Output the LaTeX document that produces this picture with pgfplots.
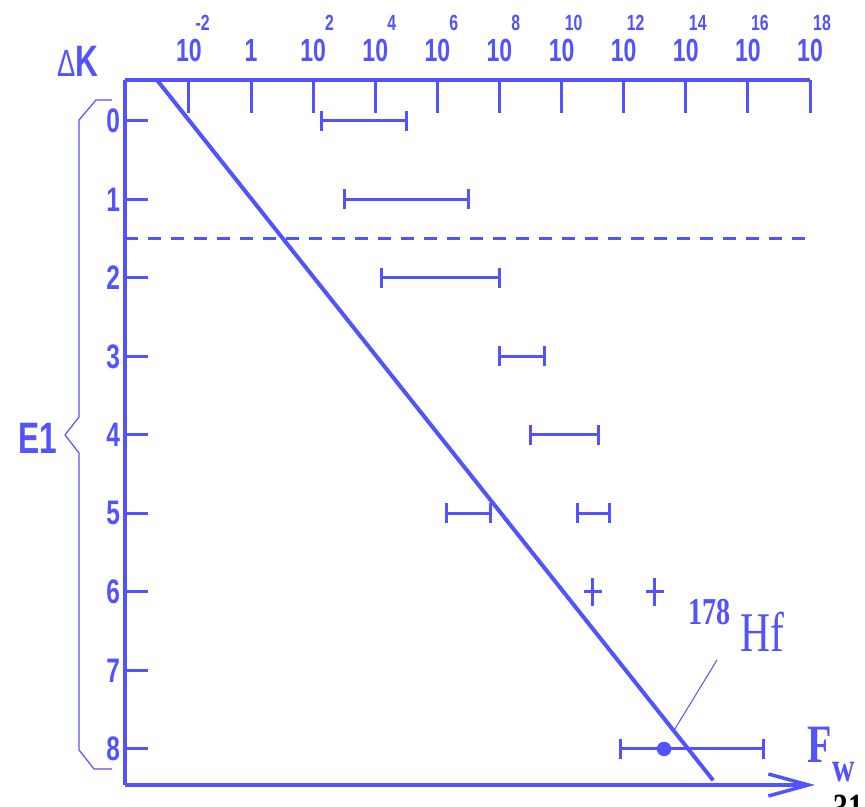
\documentclass[border=0pt]{standalone}
\usepackage{pgfplots}
\pgfplotsset{compat=1.18}
\usetikzlibrary{arrows.meta}
\usepackage{fontspec}
\setmainfont{Liberation Sans}
\newfontfamily\narrowsans[FakeStretch=0.72]{Liberation Sans}
\newfontfamily\narrowserif[FakeStretch=0.74]{Liberation Serif}
\definecolor{ink}{RGB}{82,82,255}

% power-of-ten tick label: exponent raised above the right end of the mantissa
\newcommand{\pw}[2]{#2\makebox[0pt][r]{\raisebox{15.5pt}{\fontsize{11}{11}\selectfont #1}\hspace{-4pt}}}

\begin{document}
\begin{tikzpicture}
\begin{axis}[
  scale only axis, width=342.5pt, height=352.5pt,
  xmin=-4.06, xmax=18, ymin=-0.522, ymax=8.459,
  y dir=reverse,
  axis x line*=top, axis y line*=left,
  axis line style={-, line width=1.75pt, ink},
  xtick={-2,0,2,4,6,8,10,12,14,16,18},
  xticklabels={\pw{-2}{10},\pw{}{1},\pw{2}{10},\pw{4}{10},\pw{6}{10},\pw{8}{10},\pw{10}{10},\pw{12}{10},\pw{14}{10},\pw{16}{10},\pw{18}{10}},
  ytick={0,1,2,3,4,5,6,7,8},
  yticklabels={0,1,2,3,4,5,6,7,8},
  tick align=inside,
  tick style={ink, line width=1.5pt},
  xtick style={/pgfplots/major tick length=16.5pt},
  ytick style={/pgfplots/major tick length=11.5pt},
  xticklabel style={ink, font=\narrowsans\bfseries\fontsize{16}{16}\selectfont, anchor=south, inner sep=0pt, yshift=9pt},
  yticklabel style={ink, font=\narrowsans\bfseries\fontsize{17}{17}\selectfont, xshift=1pt},
  clip=false,
  bar/.style={ink, line width=1.5pt, mark=|, mark size=5pt, mark options={solid}},
]
% systematics line: two decades of hindrance per degree of K-forbiddenness
\addplot[ink, line width=2pt] coordinates {(-3.03,-0.522) (14.88,8.40)};
% E1 boundary between allowed and forbidden
\addplot[ink, line width=1.5pt, dash pattern=on 6.5pt off 5pt] coordinates {(-4.06,1.5) (17.9,1.5)};

% ranges of reduced hindrance (log10 Fw)
\addplot[bar] coordinates {(2.28,0) (5.0,0)};
\addplot[bar] coordinates {(3.0,1) (7.0,1)};
\addplot[bar] coordinates {(4.2,2) (8.0,2)};
\addplot[bar] coordinates {(8.0,3) (9.45,3)};
\addplot[bar] coordinates {(9.0,4) (11.2,4)};
\addplot[bar] coordinates {(6.3,5) (7.7,5)};
\addplot[bar] coordinates {(10.5,5) (11.55,5)};
\addplot[bar] coordinates {(11.9,8) (16.5,8)};
\addplot[ink, only marks, mark=+, mark size=7pt, mark options={line width=1.5pt, xscale=0.65}] coordinates {(11,6) (13,6)};
\addplot[ink, only marks, mark=*, mark size=3.4pt] coordinates {(13.3,8)};

% lower axis with arrow
\draw[ink, line width=1.75pt, -{Straight Barb[length=20pt, width=11pt]}] (axis cs:-4.06,8.459) -- (axis cs:18.16,8.459);

% axis titles
\node[ink, font=\narrowsans\bfseries\fontsize{22}{22}\selectfont] at (axis cs:-5.574,-0.764) {{\mdseries\fontsize{19}{19}\selectfont Δ}K};
\node[ink, font=\narrowsans\bfseries\fontsize{22}{22}\selectfont] at (axis cs:-6.862,4.039) {E1};
\node[ink, anchor=base west, inner sep=0pt, font=\narrowserif\bfseries\fontsize{27}{27}\selectfont] at (axis cs:17.905,8.179) {F};
\node[ink, anchor=base west, inner sep=0pt, font=\narrowserif\bfseries\fontsize{21}{21}\selectfont] at (axis cs:18.71,8.421) {w};

% brace grouping the E1 multipolarity
\draw[ink, line width=0.6pt] (axis cs:-4.479,-0.267) -- (axis cs:-4.994,-0.267) -- (axis cs:-5.541,-0.012) -- (axis cs:-5.541,3.771) -- (axis cs:-5.992,4.0) -- (axis cs:-5.541,4.230) -- (axis cs:-5.541,8.013) -- (axis cs:-5.058,8.255) -- (axis cs:-4.479,8.255);

% 178Hf isomer label
\node[ink, anchor=base west, inner sep=0pt, font=\narrowserif\bfseries\fontsize{19}{19}\selectfont] at (axis cs:14.072,6.421) {178};
\node[ink, anchor=base west, inner sep=0pt, font=\narrowserif\fontsize{28}{28}\selectfont] at (axis cs:15.747,6.765) {Hf};
\draw[ink, line width=0.5pt] (axis cs:15.006,6.867) -- (axis cs:13.589,7.784);

% page number at the trimmed edge
\node[black, anchor=north west, inner sep=0pt, font=\narrowserif\bfseries\fontsize{20}{20}\selectfont] at (axis cs:18.74,8.586) {31};

\coordinate (tl) at (axis cs:-8.086,-1.541);
\coordinate (br) at (axis cs:19.771,8.727);
\end{axis}
\pgfresetboundingbox
\path[use as bounding box] (tl) rectangle (br);
\end{tikzpicture}
\end{document}
